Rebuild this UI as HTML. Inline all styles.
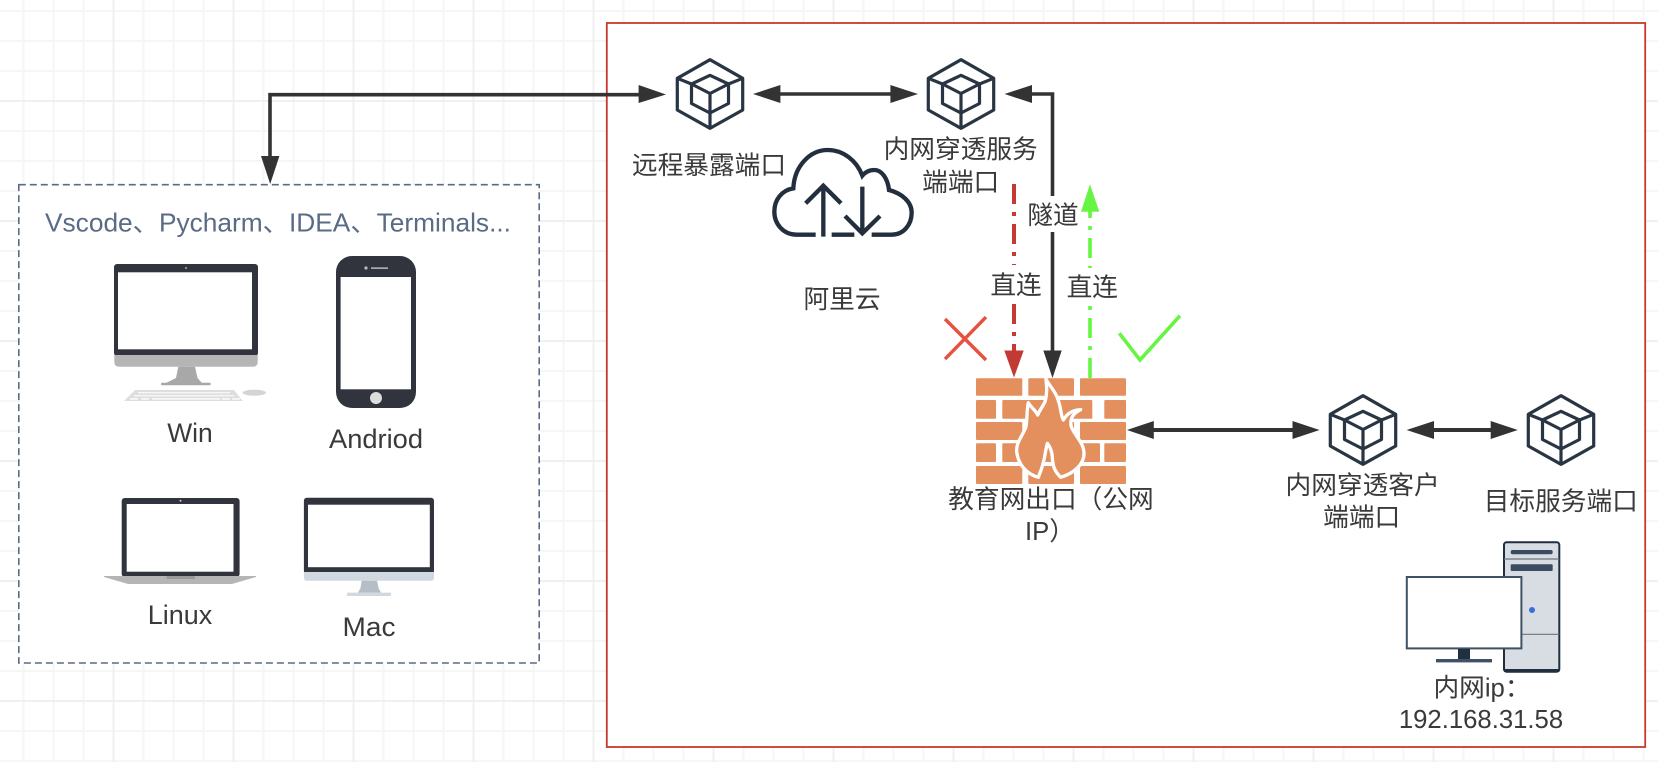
<!DOCTYPE html>
<html><head><meta charset="utf-8"><style>
html,body{margin:0;padding:0;background:#fff}
svg{display:block}
text{font-family:"Liberation Sans","Noto Sans CJK SC",sans-serif;font-size:25.7px;fill:#3a3a3a;text-anchor:middle}
text.l{font-size:26.5px}
</style></head><body>
<svg width="1658" height="762" viewBox="0 0 1658 762" xmlns="http://www.w3.org/2000/svg">
<defs>
<pattern id="gx" x="22.5" y="0" width="30" height="762" patternUnits="userSpaceOnUse"><rect width="2" height="762" fill="#f6f6f6"/></pattern>
<pattern id="gy" x="0" y="10" width="1658" height="30" patternUnits="userSpaceOnUse"><rect width="1658" height="2" fill="#f6f6f6"/></pattern>
<pattern id="gX" x="112.5" y="0" width="120" height="762" patternUnits="userSpaceOnUse"><rect width="2" height="762" fill="#f0f0f0"/></pattern>
<pattern id="gY" x="0" y="100" width="1658" height="120" patternUnits="userSpaceOnUse"><rect width="1658" height="2" fill="#f0f0f0"/></pattern>
<g id="cube" fill="none" stroke="#2a3544" stroke-width="3.2" stroke-linejoin="round">
<path d="M0-34.3 32.7-15.7V16L0 34.3-32.7 16V-15.7Z"/>
<path d="M0-18.7 18.5-10V9.5L0 19-18.5 9.5V-10Z"/>
<path d="M-32.7-15.7-18.5-10 0-.5 18.5-10 32.7-15.7M0-.5V34.3"/>
</g>
</defs>
<rect width="1658" height="762" fill="#fff"/>
<rect width="1658" height="762" fill="url(#gx)"/>
<rect width="1658" height="762" fill="url(#gy)"/>
<rect width="1658" height="762" fill="url(#gX)"/>
<rect width="1658" height="762" fill="url(#gY)"/>

<!-- containers -->
<rect x="606.8" y="23" width="1038.4" height="724" fill="#fff" stroke="#c8392b" stroke-width="1.8"/>
<rect x="18.8" y="184.7" width="520.4" height="478.3" fill="#fff" stroke="#5a6b86" stroke-width="1.6" stroke-dasharray="7 4"/>

<!-- connectors -->
<g fill="none" stroke="#333" stroke-width="3.6">
<path d="M270 160V94.7H642"/>
<path d="M778 94H892"/>
<path d="M1030 94H1052.5V354"/>
<path d="M1150 430H1296" stroke-width="4"/>
<path d="M1430 430H1494" stroke-width="4"/>
</g>
<g fill="#333">
<path d="M261 156H279.4L270.2 184Z"/>
<path d="M638.6 85 666 94.5 638.6 103Z"/>
<path d="M753 94 780.4 85V103Z"/>
<path d="M918 94 890.4 85V103Z"/>
<path d="M1004.6 94 1032 85V103Z"/>
<path d="M1043.3 350.5H1061.7L1052.5 378Z"/>
<path d="M1127 430 1153.8 421V439Z"/>
<path d="M1319.6 430 1292.5 421V439Z"/>
<path d="M1406.6 430 1434 421V439Z"/>
<path d="M1517.8 430 1490.7 421V439Z"/>
</g>
<path d="M1014 184V352" stroke="#c23a33" stroke-width="4" stroke-dasharray="20 8 4 8" fill="none"/>
<path d="M1004.3 350.5H1023.7L1014 377.5Z" fill="#c23a33"/>
<path d="M1090 378V210" stroke="#66f542" stroke-width="3.6" stroke-dasharray="20 8 4 8" fill="none"/>
<path d="M1081 211.7H1099.3L1090 184.3Z" fill="#66f542"/>

<!-- connector label backgrounds -->
<rect x="1027" y="196" width="53" height="36" fill="#fff"/>
<rect x="990" y="265" width="52" height="38" fill="#fff"/>
<rect x="1066" y="268" width="52" height="38" fill="#fff"/>

<!-- cubes -->
<use href="#cube" x="710" y="94"/>
<use href="#cube" x="961" y="94"/>
<use href="#cube" x="1363" y="430"/>
<use href="#cube" x="1561" y="430"/>

<!-- cloud -->
<g transform="translate(765 140) scale(.33333)" fill="none" stroke="#232f3e" stroke-width="13">
<path d="M152 284H95C55 284 28 252 28 215 28 178 52 150 85 145 88 78 135 30 188 30 235 30 275 62 292 107 302 95 316 90 328 90 350 90 368 115 372 150 410 160 440 185 440 218 440 255 415 284 380 284H320"/>
<path d="M200 284H268"/>
<path d="M175 140V290M122 190 175 137 228 190"/>
<path d="M292 140V280M240 228 292 280 345 228"/>
</g>

<!-- X and check -->
<path d="M945 319 986 360M986 317 945 359" stroke="#e8503f" stroke-width="3.4" fill="none"/>
<path d="M1119.3 333.3 1140 360 1180 315.7" stroke="#66f542" stroke-width="3.6" fill="none"/>

<!-- firewall -->
<g fill="#e48f5e">
<rect x="976" y="378.3" width="46.3" height="17.4" rx="1"/><rect x="1028.3" y="378.3" width="45.7" height="17.4" rx="1"/><rect x="1080" y="378.3" width="46" height="17.4" rx="1"/>
<rect x="976" y="400" width="20" height="18.7" rx="1"/><rect x="1002.3" y="400" width="90" height="18.7" rx="1"/><rect x="1104.3" y="400" width="21.7" height="18.7" rx="1"/>
<rect x="976" y="422" width="46.3" height="18" rx="1"/><rect x="1028.3" y="422" width="45.7" height="18" rx="1"/><rect x="1080" y="422" width="46" height="18" rx="1"/>
<rect x="976" y="443.3" width="20" height="18.7" rx="1"/><rect x="1002.3" y="443.3" width="97.7" height="18.7" rx="1"/><rect x="1104.3" y="443.3" width="21.7" height="18.7" rx="1"/>
<rect x="976" y="466" width="46.3" height="18" rx="1"/><rect x="1028.3" y="466" width="45.7" height="18" rx="1"/><rect x="1080" y="466" width="46" height="18" rx="1"/>
</g>
<g transform="translate(970 370) scale(.33333)">
<path d="M228 28C240 50 258 65 266 95 274 120 272 135 280 150 290 132 308 120 332 119 310 130 298 145 304 170 312 195 340 215 342 248 343 285 310 310 272 322 255 305 248 290 247 262 246 245 240 230 232 220 228 235 226 250 222 270 216 295 210 310 205 322 170 312 145 285 140 245 138 215 160 195 168 170 172 145 170 120 175 98 185 115 198 122 203 135 210 118 222 105 226 92 232 70 230 50 228 28Z" fill="#e48f5e" stroke="#fff" stroke-width="10" stroke-linejoin="round"/>
</g>

<!-- iMac Win -->
<rect x="114" y="264" width="144" height="92" rx="3" fill="#31343d"/>
<rect x="118" y="272.3" width="134" height="77" fill="#fff"/>
<circle cx="186" cy="268" r="1" fill="#aaa"/>
<path d="M114.3 355H257.7V362Q257.7 366.7 253 366.7H119Q114.3 366.7 114.3 362Z" fill="#b5b5b5"/>
<path d="M178.3 366.7H195L197.5 378 202 383H166L176 378Z" fill="#a8a8a8"/>
<rect x="161" y="382.7" width="49.7" height="2.6" rx="1.2" fill="#a8a8a8"/>
<path d="M135 390H234L242.7 401H124Z" fill="#dedede"/>
<g fill="#f6f6f6">
<rect x="138" y="392" width="92" height="1.4"/><rect x="134" y="395" width="100" height="1.4"/>
<rect x="130" y="398" width="8" height="1.8"/><rect x="141" y="398" width="8" height="1.8"/><rect x="152" y="398" width="68" height="1.8"/><rect x="222" y="398" width="8" height="1.8"/><rect x="232" y="398" width="8" height="1.8"/>
</g>
<ellipse cx="254.3" cy="392.7" rx="11.7" ry="3" fill="#d4d4d4"/>

<!-- phone -->
<rect x="336" y="256" width="80" height="152" rx="16" fill="#31343d"/>
<rect x="340.6" y="277" width="70.4" height="112.3" fill="#fff"/>
<circle cx="366" cy="268" r="1.6" fill="#bbb"/><rect x="371" y="267.5" width="17" height="1.2" fill="#ddd"/>
<circle cx="376" cy="398" r="6" fill="#ddd"/>

<!-- laptop -->
<rect x="121.7" y="498" width="117.9" height="79" rx="3" fill="#31343d"/>
<rect x="126.7" y="504" width="106.8" height="67.7" fill="#fff"/>
<circle cx="180.5" cy="500.7" r="1" fill="#ccc"/>
<path d="M104 576H256V577L232 584H128L104 577Z" fill="#b5b5b5"/>
<rect x="166.5" y="576" width="28.5" height="3" rx="1" fill="#999"/>

<!-- Mac -->
<rect x="303.9" y="497.7" width="130.1" height="76" rx="3" fill="#31343d"/>
<rect x="308" y="504.7" width="121.8" height="62.5" fill="#fff"/>
<path d="M303.9 572H434V578Q434 580.7 431 580.7H307Q303.9 580.7 303.9 578Z" fill="#d0d8e0"/>
<path d="M361.6 580.7H377L378.5 588 381 592.7H358L360.5 588Z" fill="#b5bec6"/>
<rect x="347" y="592.7" width="44" height="3.3" fill="#d0d8e0"/>

<!-- server -->
<rect x="1504" y="542.3" width="55.3" height="129.4" rx="2.5" fill="#d8dde3" stroke="#1f2f40" stroke-width="2"/>
<rect x="1504" y="669" width="55.3" height="3" fill="#1f2f40"/>
<path d="M1504 559H1559.3M1504 634.3H1559.3" stroke="#6b7680" stroke-width="1.2"/>
<rect x="1510.7" y="550" width="42" height="4.3" rx="2" fill="#3b4c60"/>
<rect x="1510.7" y="564.3" width="42" height="6.7" rx="1" fill="#3b4c60"/>
<circle cx="1532" cy="610" r="3" fill="#3a6fd8"/>
<rect x="1406.8" y="577" width="114.6" height="71.4" fill="#fff" stroke="#3f5263" stroke-width="2"/>
<rect x="1458" y="649" width="12" height="11" fill="#1f3040"/>
<rect x="1436" y="659" width="56" height="3.4" fill="#3f5263"/>

<!-- labels -->
<text x="278" y="231.5" style="fill:#5a6b86" textLength="466" lengthAdjust="spacingAndGlyphs">Vscode、Pycharm、IDEA、Terminals...</text>
<text class="l" x="190" y="442" textLength="45.5" lengthAdjust="spacingAndGlyphs">Win</text>
<text class="l" x="376" y="448" textLength="94" lengthAdjust="spacingAndGlyphs">Andriod</text>
<text class="l" x="180" y="624" textLength="64.5" lengthAdjust="spacingAndGlyphs">Linux</text>
<text class="l" x="369" y="636" textLength="53" lengthAdjust="spacingAndGlyphs">Mac</text>
<text x="709" y="174">远程暴露端口</text>
<text x="960.7" y="158">内网穿透服务</text>
<text x="960.7" y="191">端端口</text>
<text x="842" y="308">阿里云</text>
<text x="1053" y="224">隧道</text>
<text x="1016" y="294">直连</text>
<text x="1092.3" y="296">直连</text>
<text x="1051" y="508">教育网出口（公网</text>
<text x="1050" y="540">IP）</text>
<text x="1362.6" y="494">内网穿透客户</text>
<text x="1361.7" y="526">端端口</text>
<text x="1560.8" y="510">目标服务端口</text>
<text x="1482" y="696.5">内网ip：</text>
<text x="1481" y="728">192.168.31.58</text>
</svg>
</body></html>
